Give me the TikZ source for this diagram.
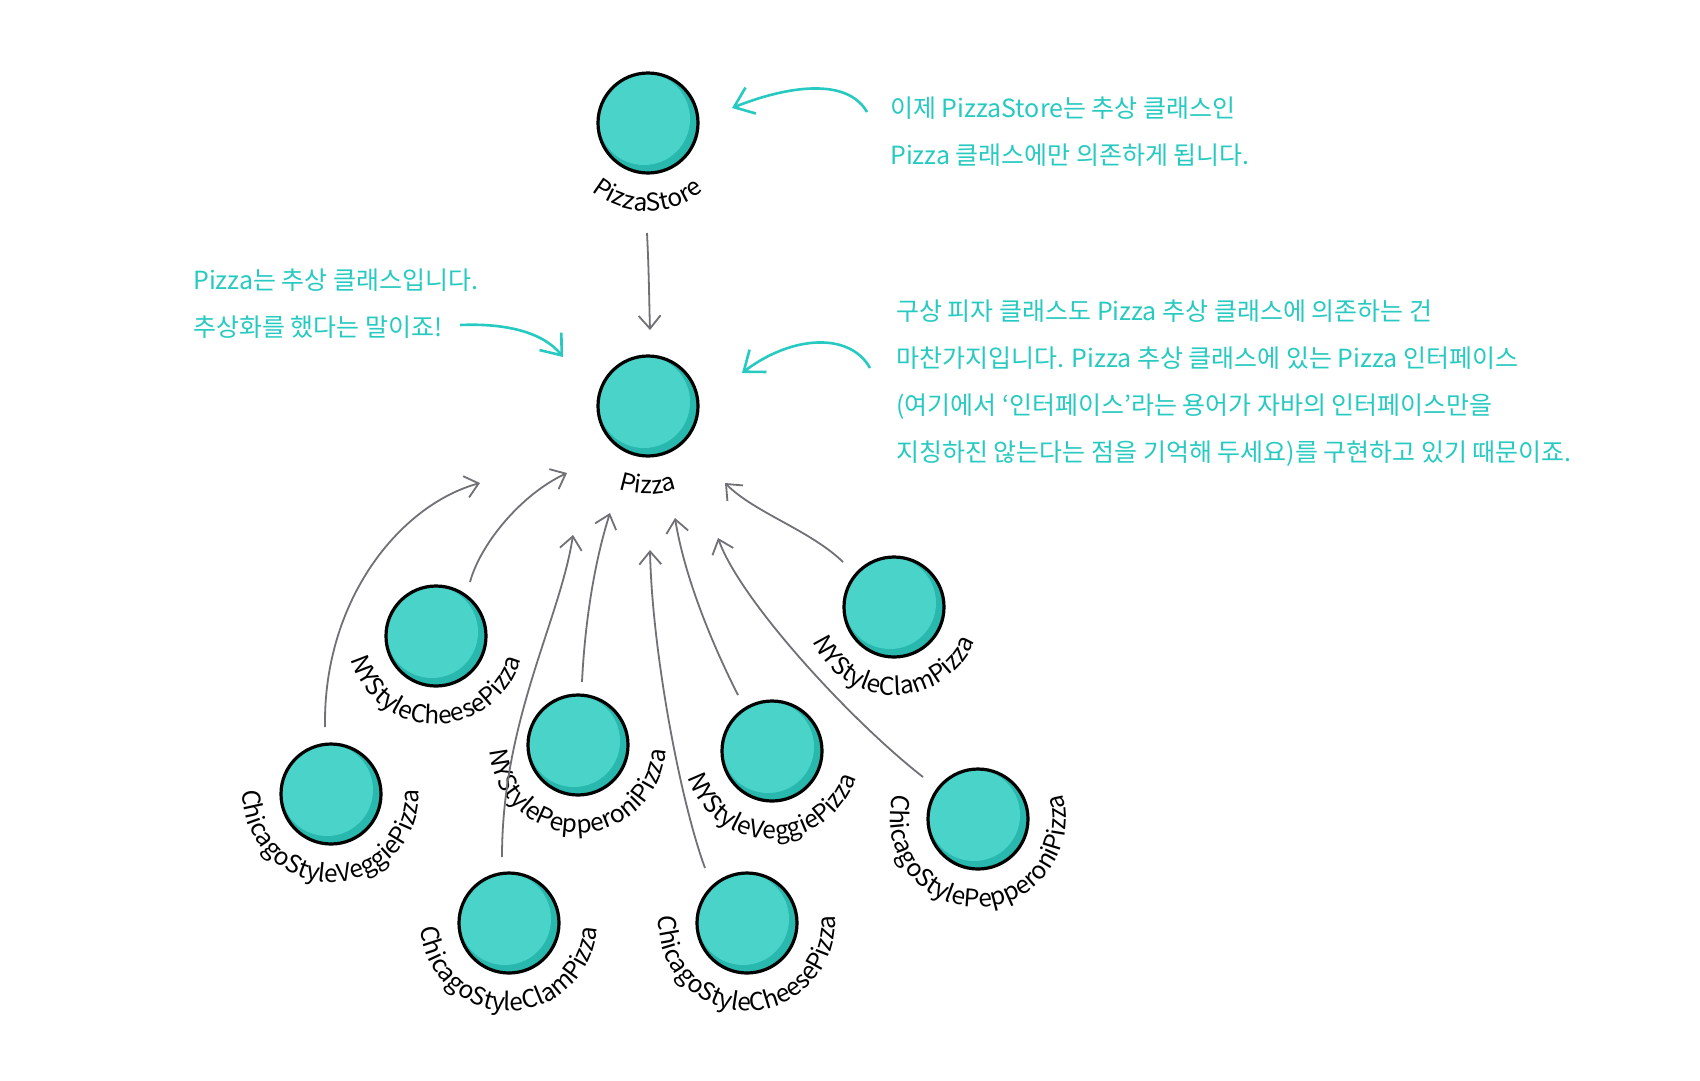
\documentclass[tikz,border=0pt]{standalone}
\usepackage{fontspec}
\setmainfont{Noto Sans CJK KR}
\usetikzlibrary{arrows.meta,decorations.text}

\definecolor{tuerkis}{RGB}{74,212,201}
\definecolor{tuerkisdunkel}{RGB}{40,184,174}
\definecolor{notizfarbe}{RGB}{38,202,192}
\definecolor{pfeilgrau}{RGB}{112,112,118}

\tikzset{
  klasse/.style={circle,draw=black,line width=3.2pt,fill=tuerkisdunkel,minimum size=100pt,inner sep=0pt,
    path picture={\fill[tuerkis] ([shift={(-4pt,4pt)}]path picture bounding box.center) circle (46pt);}},
  klname/.style={decorate,decoration={text along path,text align=center,
    text={|\fontsize{24.5}{24.5}\selectfont|#1}}},
  erbt/.style={pfeilgrau,line width=1.8pt,-{Straight Barb[length=13pt,width=22pt]}},
  hinweis/.style={notizfarbe,line width=2.6pt,-{Straight Barb[length=18pt,width=28pt]}},
  notiztext/.style={text=notizfarbe,font=\fontsize{25}{47}\selectfont,align=left,inner sep=0pt,anchor=west},
}

\begin{document}
\begin{tikzpicture}[x=1pt,y=1pt]
  % Hintergrund
  \fill[white] (0,0) rectangle (1700,-1080);
  \useasboundingbox (0,0) rectangle (1700,-1080);

  % Klassen
  \node[klasse] (store) at (648,-123) {};
  \node[klasse] (pizza) at (648,-406) {};
  \node[klasse] (nycheese) at (436,-636) {};
  \node[klasse] (chveggie) at (331,-794) {};
  \node[klasse] (nypepperoni) at (578,-745) {};
  \node[klasse] (chclam) at (509,-923) {};
  \node[klasse] (nyveggie) at (772,-751) {};
  \node[klasse] (chcheese) at (747,-923) {};
  \node[klasse] (nyclam) at (894,-607) {};
  \node[klasse] (chpepperoni) at (978,-819) {};

  % Klassennamen
  \path[klname=PizzaStore] ([shift={(150:88)}]store.center) arc[start angle=150,end angle=390,radius=88];
  \path[klname=Pizza] ([shift={(150:88)}]pizza.center) arc[start angle=150,end angle=390,radius=88];
  \path[klname=NYStyleCheesePizza] ([shift={(150:88)}]nycheese.center) arc[start angle=150,end angle=390,radius=88];
  \path[klname=ChicagoStyleVeggiePizza] ([shift={(150:88)}]chveggie.center) arc[start angle=150,end angle=390,radius=88];
  \path[klname=NYStylePepperoniPizza] ([shift={(150:88)}]nypepperoni.center) arc[start angle=150,end angle=390,radius=88];
  \path[klname=ChicagoStyleClamPizza] ([shift={(150:88)}]chclam.center) arc[start angle=150,end angle=390,radius=88];
  \path[klname=NYStyleVeggiePizza] ([shift={(150:88)}]nyveggie.center) arc[start angle=150,end angle=390,radius=88];
  \path[klname=ChicagoStyleCheesePizza] ([shift={(150:88)}]chcheese.center) arc[start angle=150,end angle=390,radius=88];
  \path[klname=NYStyleClamPizza] ([shift={(150:88)}]nyclam.center) arc[start angle=150,end angle=390,radius=88];
  \path[klname=ChicagoStylePepperoniPizza] ([shift={(150:88)}]chpepperoni.center) arc[start angle=150,end angle=390,radius=88];

  % Abhaengigkeit
  \draw[erbt] ([shift={(-1,-110)}]store.center) .. controls +(2,-40) and +(-1,35) .. ([shift={(2,76)}]pizza.center);

  % Unterklassen -> Pizza
  \draw[erbt] ([shift={(-6,67)}]chveggie.center) .. controls +(-2,127) and +(-80,-22) .. ([shift={(-168,-77)}]pizza.center);
  \draw[erbt] ([shift={(34,54)}]nycheese.center) .. controls +(10,37) and +(-47,-22) .. ([shift={(-81,-67)}]pizza.center);
  \draw[erbt] ([shift={(-7,66)}]chclam.center) .. controls +(0,137) and +(-13,-85) .. ([shift={(-75,-129)}]pizza.center);
  \draw[erbt] ([shift={(4,63)}]nypepperoni.center) .. controls +(3,62) and +(-15,-47) .. ([shift={(-38,-107)}]pizza.center);
  \draw[erbt] ([shift={(-42,55)}]chcheese.center) .. controls +(-25,68) and +(2,-100) .. ([shift={(2,-144)}]pizza.center);
  \draw[erbt] ([shift={(-34,56)}]nyveggie.center) .. controls +(-23,45) and +(10,-62) .. ([shift={(27,-112)}]pizza.center);
  \draw[erbt] ([shift={(-55,42)}]chpepperoni.center) .. controls +(-73,57) and +(22,-62) .. ([shift={(70,-132)}]pizza.center);
  \draw[erbt] ([shift={(-51,45)}]nyclam.center) .. controls +(-33,32) and +(30,-30) .. ([shift={(77,-77)}]pizza.center);

  % Notizen
  \node[notiztext] (storenote) at (890,-131.5) {이제 PizzaStore는 추상 클래스인\\Pizza 클래스에만 의존하게 됩니다.};
  \node[notiztext] (abstractnote) at (193,-304) {Pizza는 추상 클래스입니다.\\추상화를 했다는 말이죠!};
  \node[notiztext] (concretenote) at (896,-383.5) {구상 피자 클래스도 Pizza 추상 클래스에 의존하는 건\\마찬가지입니다. Pizza 추상 클래스에 있는 Pizza 인터페이스\\(여기에서 ‘인터페이스’라는 용어가 자바의 인터페이스만을\\지칭하진 않는다는 점을 기억해 두세요)를 구현하고 있기 때문이죠.};

  \coordinate (storetail) at (867,-112);
  \coordinate (abstracttail) at (460,-325);
  \coordinate (concretetail) at (870,-368);
  \draw[hinweis] (storetail) .. controls +(-20,35) and +(55,22) .. ([shift={(84,15)}]store.center);
  \draw[hinweis] (abstracttail) .. controls +(45,2) and +(-20,25) .. ([shift={(-85,49)}]pizza.center);
  \draw[hinweis] (concretetail) .. controls +(-20,36) and +(50,38) .. ([shift={(94,33)}]pizza.center);
\end{tikzpicture}
\end{document}
